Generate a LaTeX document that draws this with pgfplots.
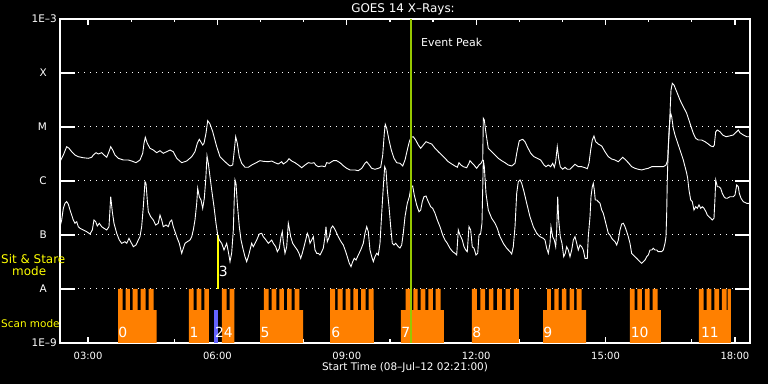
\documentclass[border=0pt]{standalone}
\usepackage{fontspec}
\setmainfont{DejaVu Sans}
\usepackage{pgfplots}
\pgfplotsset{compat=1.18}
\definecolor{scanor}{RGB}{255,128,0}
\definecolor{sitblue}{RGB}{100,100,255}
\definecolor{peakgreen}{RGB}{150,200,0}
\definecolor{labyellow}{RGB}{255,255,0}
\begin{document}
\begin{tikzpicture}
\useasboundingbox (0,0) rectangle (768bp,384bp);
\fill[black] (0,0) rectangle (768bp,384bp);
% axis with class ticks and dotted grid
\begin{axis}[at={(60bp,41bp)}, anchor=south west, scale only axis,
  width=690bp, height=324bp,
  xmin=2.35, xmax=18.35, ymin=-9, ymax=-3,
  xtick=\empty,
  ytick={-9,-8,-7,-6,-5,-4,-3},
  yticklabels={1E--9,{A\hspace*{10bp}},{B\hspace*{10bp}},{C\hspace*{10bp}},{M\hspace*{10bp}},{X\hspace*{10bp}},1E--3},
  major tick length=15bp,
  tick style={white, line width=1.2bp},
  ymajorgrids,
  major grid style={white, line width=1bp, dash pattern=on 1bp off 5bp},
  axis line style={white, line width=1.2bp},
  yticklabel style={text=white, font=\fontsize{10.5}{12}\selectfont, inner sep=0pt, xshift=-3bp},
]
\end{axis}
% data axis
\begin{axis}[at={(60bp,41bp)}, anchor=south west, scale only axis,
  width=690bp, height=324bp,
  xmin=2.35, xmax=18.35, ymin=-9, ymax=-3,
  xtick={3,6,9,12,15,18},
  xticklabels={03:00,06:00,09:00,12:00,15:00,18:00},
  minor xtick={4,5,7,8,10,11,13,14,16,17},
  ytick=\empty,
  major tick length=6bp, minor tick length=3.5bp,
  tick style={white, line width=1.2bp},
  axis line style={white, line width=1.2bp},
  xticklabel style={text=white, font=\fontsize{10}{12}\selectfont, inner sep=0pt, yshift=-9bp},
]
% scan blocks
\addplot[fill=scanor, draw=none] coordinates {(3.695,-9)(3.695,-8)(3.804,-8)(3.804,-8.389)(3.873,-8.389)(3.873,-8)(3.973,-8)(3.973,-8.389)(4.036,-8.389)(4.036,-8)(4.152,-8)(4.152,-8.389)(4.221,-8.389)(4.221,-8)(4.337,-8)(4.337,-8.389)(4.407,-8.389)(4.407,-8)(4.523,-8)(4.523,-8.389)(4.592,-8.389)(4.592,-9)};
\addplot[fill=scanor, draw=none] coordinates {(5.341,-9)(5.341,-8)(5.450,-8)(5.450,-8.389)(5.520,-8.389)(5.520,-8)(5.626,-8)(5.626,-8.389)(5.696,-8.389)(5.696,-8)(5.805,-8)(5.805,-9)};
\addplot[fill=scanor, draw=none] coordinates {(6.106,-9)(6.106,-8)(6.215,-8)(6.215,-8.389)(6.285,-8.389)(6.285,-8)(6.392,-8)(6.392,-9)};
\addplot[fill=scanor, draw=none] coordinates {(6.988,-9)(6.988,-8.389)(7.080,-8.389)(7.080,-8)(7.189,-8)(7.189,-8.389)(7.259,-8.389)(7.259,-8)(7.366,-8)(7.366,-8.389)(7.435,-8.389)(7.435,-8)(7.544,-8)(7.544,-8.389)(7.614,-8.389)(7.614,-8)(7.723,-8)(7.723,-8.389)(7.792,-8.389)(7.792,-8)(7.899,-8)(7.899,-8.389)(7.985,-8.389)(7.985,-9)};
\addplot[fill=scanor, draw=none] coordinates {(8.611,-9)(8.611,-8)(8.727,-8)(8.727,-8.389)(8.789,-8.389)(8.789,-8)(8.905,-8)(8.905,-8.389)(8.975,-8.389)(8.975,-8)(9.082,-8)(9.082,-8.389)(9.151,-8.389)(9.151,-8)(9.260,-8)(9.260,-8.389)(9.330,-8.389)(9.330,-8)(9.439,-8)(9.439,-8.389)(9.508,-8.389)(9.508,-8)(9.624,-8)(9.624,-8.389)(9.631,-8.389)(9.631,-9)};
\addplot[fill=scanor, draw=none] coordinates {(10.257,-9)(10.257,-8.389)(10.366,-8.389)(10.366,-8)(10.466,-8)(10.466,-8.389)(10.542,-8.389)(10.542,-8)(10.644,-8)(10.644,-8.389)(10.714,-8.389)(10.714,-8)(10.821,-8)(10.821,-8.389)(10.890,-8.389)(10.890,-8)(10.999,-8)(10.999,-8.389)(11.062,-8.389)(11.062,-8)(11.178,-8)(11.178,-8.389)(11.254,-8.389)(11.254,-9)};
\addplot[fill=scanor, draw=none] coordinates {(11.903,-9)(11.903,-8)(12.019,-8)(12.019,-8.389)(12.098,-8.389)(12.098,-8)(12.205,-8)(12.205,-8.389)(12.293,-8.389)(12.293,-8)(12.400,-8)(12.400,-8.389)(12.488,-8.389)(12.488,-8)(12.594,-8)(12.594,-8.389)(12.683,-8.389)(12.683,-8)(12.789,-8)(12.789,-8.389)(12.877,-8.389)(12.877,-8)(12.993,-8)(12.993,-9)};
\addplot[fill=scanor, draw=none] coordinates {(13.550,-9)(13.550,-8.389)(13.643,-8.389)(13.643,-8)(13.735,-8)(13.735,-8.389)(13.812,-8.389)(13.812,-8)(13.914,-8)(13.914,-8.389)(13.990,-8.389)(13.990,-8)(14.090,-8)(14.090,-8.389)(14.169,-8.389)(14.169,-8)(14.269,-8)(14.269,-8.389)(14.331,-8.389)(14.331,-8)(14.447,-8)(14.447,-8.389)(14.547,-8.389)(14.547,-9)};
\addplot[fill=scanor, draw=none] coordinates {(15.567,-9)(15.567,-8)(15.676,-8)(15.676,-8.389)(15.737,-8.389)(15.737,-8)(15.845,-8)(15.845,-8.389)(15.915,-8.389)(15.915,-8)(16.024,-8)(16.024,-8.389)(16.093,-8.389)(16.093,-8)(16.209,-8)(16.209,-8.389)(16.286,-8.389)(16.286,-9)};
\addplot[fill=scanor, draw=none] coordinates {(17.167,-9)(17.167,-8)(17.276,-8)(17.276,-8.389)(17.346,-8.389)(17.346,-8)(17.452,-8)(17.452,-8.389)(17.522,-8.389)(17.522,-8)(17.631,-8)(17.631,-8.389)(17.700,-8.389)(17.700,-8)(17.809,-8)(17.809,-8.389)(17.833,-8.389)(17.833,-8)(17.909,-8)(17.909,-9)};
% sit and stare
\addplot[fill=sitblue, draw=none] coordinates {(5.921,-9)(5.921,-8.389)(6.014,-8.389)(6.014,-9)};
\addplot[labyellow, line width=2bp] coordinates {(6.007,-8)(6.007,-7)};
% GOES long channel
\addplot[white, line width=0.9bp] coordinates {(2.350,-5.643)(2.427,-5.519)(2.505,-5.365)(2.559,-5.394)(2.621,-5.457)(2.698,-5.519)(2.774,-5.550)(2.890,-5.569)(3.006,-5.580)(3.085,-5.561)(3.122,-5.519)(3.185,-5.476)(3.238,-5.500)(3.317,-5.476)(3.370,-5.519)(3.433,-5.561)(3.486,-5.457)(3.526,-5.365)(3.572,-5.426)(3.625,-5.519)(3.702,-5.580)(3.818,-5.611)(3.934,-5.611)(4.013,-5.630)(4.112,-5.661)(4.205,-5.611)(4.268,-5.487)(4.298,-5.302)(4.328,-5.191)(4.374,-5.302)(4.437,-5.394)(4.513,-5.426)(4.592,-5.476)(4.669,-5.439)(4.745,-5.487)(4.824,-5.457)(4.901,-5.426)(4.977,-5.457)(5.056,-5.580)(5.172,-5.661)(5.288,-5.630)(5.404,-5.550)(5.480,-5.457)(5.534,-5.302)(5.580,-5.228)(5.613,-5.272)(5.659,-5.333)(5.689,-5.302)(5.735,-5.117)(5.775,-4.883)(5.828,-4.944)(5.891,-5.087)(5.984,-5.365)(6.060,-5.550)(6.137,-5.611)(6.215,-5.672)(6.292,-5.722)(6.355,-5.704)(6.392,-5.426)(6.424,-5.180)(6.461,-5.302)(6.508,-5.550)(6.563,-5.672)(6.640,-5.746)(6.716,-5.746)(6.795,-5.704)(6.872,-5.672)(6.988,-5.624)(7.064,-5.635)(7.180,-5.643)(7.259,-5.630)(7.335,-5.661)(7.412,-5.685)(7.491,-5.643)(7.528,-5.685)(7.607,-5.643)(7.660,-5.587)(7.723,-5.630)(7.799,-5.661)(7.876,-5.704)(7.955,-5.754)(8.031,-5.704)(8.108,-5.661)(8.186,-5.672)(8.240,-5.661)(8.286,-5.709)(8.340,-5.735)(8.418,-5.722)(8.495,-5.735)(8.534,-5.661)(8.595,-5.672)(8.687,-5.624)(8.766,-5.624)(8.843,-5.661)(8.919,-5.717)(8.998,-5.765)(9.075,-5.796)(9.190,-5.796)(9.267,-5.809)(9.346,-5.765)(9.422,-5.672)(9.462,-5.643)(9.522,-5.704)(9.578,-5.765)(9.654,-5.783)(9.731,-5.765)(9.786,-5.746)(9.833,-5.519)(9.870,-5.117)(9.893,-4.950)(9.926,-5.024)(9.979,-5.241)(10.032,-5.426)(10.095,-5.580)(10.157,-5.661)(10.234,-5.672)(10.297,-5.722)(10.350,-5.611)(10.403,-5.426)(10.450,-5.272)(10.489,-5.191)(10.542,-5.180)(10.598,-5.241)(10.658,-5.333)(10.714,-5.394)(10.774,-5.333)(10.837,-5.272)(10.890,-5.291)(10.969,-5.315)(11.046,-5.394)(11.122,-5.457)(11.201,-5.519)(11.277,-5.580)(11.354,-5.643)(11.433,-5.685)(11.509,-5.722)(11.563,-5.746)(11.602,-5.661)(11.648,-5.704)(11.702,-5.735)(11.781,-5.754)(11.834,-5.672)(11.857,-5.624)(11.897,-5.661)(11.950,-5.704)(12.012,-5.765)(12.066,-5.704)(12.112,-5.672)(12.152,-5.611)(12.166,-4.839)(12.189,-4.870)(12.228,-5.117)(12.281,-5.394)(12.360,-5.457)(12.437,-5.519)(12.513,-5.580)(12.592,-5.624)(12.669,-5.661)(12.745,-5.704)(12.824,-5.722)(12.901,-5.672)(12.954,-5.426)(13.000,-5.254)(13.079,-5.228)(13.132,-5.272)(13.186,-5.365)(13.265,-5.487)(13.341,-5.550)(13.418,-5.580)(13.496,-5.611)(13.573,-5.704)(13.619,-5.735)(13.673,-5.704)(13.728,-5.735)(13.775,-5.672)(13.812,-5.746)(13.844,-5.643)(13.881,-5.365)(13.914,-5.580)(13.951,-5.735)(14.007,-5.783)(14.060,-5.746)(14.113,-5.783)(14.176,-5.783)(14.238,-5.735)(14.292,-5.691)(14.368,-5.735)(14.447,-5.735)(14.524,-5.754)(14.577,-5.772)(14.616,-5.672)(14.656,-5.426)(14.693,-5.241)(14.732,-5.167)(14.772,-5.272)(14.832,-5.315)(14.911,-5.352)(14.987,-5.457)(15.064,-5.550)(15.143,-5.593)(15.219,-5.611)(15.296,-5.643)(15.352,-5.598)(15.398,-5.561)(15.451,-5.598)(15.528,-5.661)(15.606,-5.735)(15.683,-5.765)(15.760,-5.783)(15.838,-5.796)(15.915,-5.778)(15.992,-5.765)(16.070,-5.735)(16.147,-5.735)(16.223,-5.735)(16.339,-5.735)(16.402,-5.704)(16.441,-5.611)(16.478,-5.056)(16.518,-4.315)(16.548,-4.191)(16.587,-4.222)(16.650,-4.346)(16.727,-4.500)(16.803,-4.624)(16.882,-4.746)(16.958,-4.931)(17.035,-5.117)(17.091,-5.209)(17.151,-5.241)(17.230,-5.241)(17.306,-5.272)(17.383,-5.315)(17.439,-5.352)(17.499,-5.365)(17.522,-5.333)(17.555,-5.087)(17.592,-5.056)(17.654,-5.087)(17.717,-5.148)(17.793,-5.180)(17.870,-5.167)(17.962,-5.148)(18.041,-5.087)(18.079,-5.056)(18.118,-5.106)(18.195,-5.148)(18.273,-5.180)(18.334,-5.180)};
% GOES short channel
\addplot[white, line width=0.9bp] coordinates {(2.350,-6.846)(2.389,-6.722)(2.427,-6.506)(2.466,-6.413)(2.505,-6.383)(2.542,-6.426)(2.582,-6.537)(2.621,-6.630)(2.658,-6.722)(2.698,-6.783)(2.737,-6.754)(2.774,-6.846)(2.814,-6.876)(2.890,-6.907)(2.969,-6.939)(3.046,-6.981)(3.099,-6.907)(3.138,-6.722)(3.178,-6.754)(3.215,-6.833)(3.261,-6.783)(3.317,-6.846)(3.370,-6.876)(3.433,-6.907)(3.486,-6.846)(3.526,-6.291)(3.563,-6.569)(3.602,-6.783)(3.665,-6.969)(3.725,-7.093)(3.781,-7.154)(3.857,-7.124)(3.897,-7.154)(3.950,-7.061)(3.989,-7.124)(4.050,-7.217)(4.112,-7.185)(4.166,-7.093)(4.205,-7.031)(4.244,-6.846)(4.282,-6.476)(4.321,-6.013)(4.344,-6.043)(4.374,-6.352)(4.398,-6.569)(4.453,-6.661)(4.513,-6.722)(4.569,-6.815)(4.629,-6.783)(4.669,-6.630)(4.708,-6.722)(4.745,-6.846)(4.808,-6.815)(4.861,-6.846)(4.901,-6.754)(4.940,-6.722)(4.977,-6.846)(5.017,-6.939)(5.070,-7.061)(5.116,-7.154)(5.172,-7.339)(5.209,-7.246)(5.249,-7.154)(5.302,-7.124)(5.364,-7.093)(5.404,-7.031)(5.441,-6.907)(5.480,-6.722)(5.520,-6.413)(5.543,-6.135)(5.580,-6.291)(5.620,-6.352)(5.659,-6.506)(5.696,-6.320)(5.729,-5.981)(5.759,-5.537)(5.789,-5.672)(5.828,-5.920)(5.868,-6.167)(5.921,-6.476)(5.967,-6.783)(6.007,-7.000)(6.044,-7.093)(6.100,-7.154)(6.153,-7.278)(6.215,-7.154)(6.253,-7.309)(6.292,-7.494)(6.331,-7.333)(6.369,-6.907)(6.392,-6.291)(6.408,-5.981)(6.431,-6.043)(6.461,-6.413)(6.508,-6.846)(6.547,-7.093)(6.600,-7.278)(6.640,-7.402)(6.679,-7.494)(6.716,-7.402)(6.756,-7.278)(6.795,-7.154)(6.832,-7.217)(6.872,-7.154)(6.911,-7.093)(6.971,-6.981)(7.027,-6.969)(7.064,-7.031)(7.127,-7.093)(7.180,-7.154)(7.219,-7.124)(7.259,-7.093)(7.296,-7.154)(7.352,-7.217)(7.389,-7.309)(7.435,-7.246)(7.475,-7.031)(7.505,-6.939)(7.528,-7.124)(7.567,-7.339)(7.607,-7.217)(7.644,-6.783)(7.667,-6.876)(7.699,-7.031)(7.746,-7.154)(7.799,-7.217)(7.853,-7.278)(7.892,-7.339)(7.931,-7.432)(7.968,-7.339)(8.008,-7.217)(8.047,-7.093)(8.085,-6.969)(8.117,-7.031)(8.147,-7.154)(8.186,-7.093)(8.224,-7.031)(8.263,-7.278)(8.302,-7.339)(8.340,-7.339)(8.379,-7.370)(8.418,-7.309)(8.455,-7.246)(8.495,-7.031)(8.518,-6.846)(8.548,-7.124)(8.595,-7.031)(8.634,-6.876)(8.673,-6.833)(8.711,-6.876)(8.750,-6.939)(8.803,-7.031)(8.866,-7.124)(8.919,-7.185)(8.975,-7.309)(9.012,-7.402)(9.058,-7.524)(9.098,-7.587)(9.137,-7.494)(9.174,-7.432)(9.214,-7.463)(9.267,-7.370)(9.323,-7.278)(9.383,-7.154)(9.422,-6.969)(9.462,-6.846)(9.499,-6.939)(9.538,-7.278)(9.578,-7.402)(9.615,-7.494)(9.654,-7.402)(9.694,-7.339)(9.731,-7.370)(9.770,-7.154)(9.810,-6.598)(9.847,-6.106)(9.879,-5.735)(9.909,-5.796)(9.940,-6.167)(9.979,-6.476)(10.018,-6.846)(10.055,-7.154)(10.095,-7.185)(10.134,-7.154)(10.195,-7.217)(10.234,-7.241)(10.273,-7.185)(10.310,-6.969)(10.350,-6.661)(10.403,-6.413)(10.450,-6.291)(10.489,-6.106)(10.528,-6.093)(10.565,-6.259)(10.621,-6.444)(10.674,-6.569)(10.714,-6.537)(10.751,-6.383)(10.790,-6.291)(10.837,-6.278)(10.890,-6.383)(10.946,-6.476)(10.992,-6.506)(11.046,-6.598)(11.099,-6.722)(11.161,-6.846)(11.224,-7.000)(11.277,-7.093)(11.331,-7.154)(11.393,-7.246)(11.456,-7.309)(11.509,-7.339)(11.549,-7.370)(11.586,-6.907)(11.625,-7.000)(11.679,-7.093)(11.718,-7.217)(11.757,-7.278)(11.794,-7.309)(11.834,-6.846)(11.873,-6.907)(11.910,-7.217)(11.950,-7.246)(11.996,-7.370)(12.036,-7.339)(12.066,-7.000)(12.105,-6.969)(12.135,-6.783)(12.166,-5.611)(12.189,-5.735)(12.228,-6.228)(12.281,-6.537)(12.360,-6.691)(12.437,-6.783)(12.490,-6.876)(12.553,-7.031)(12.629,-7.154)(12.708,-7.246)(12.785,-7.309)(12.824,-7.352)(12.861,-7.217)(12.901,-6.846)(12.940,-6.228)(12.977,-6.013)(13.017,-5.981)(13.056,-6.043)(13.109,-6.198)(13.172,-6.413)(13.248,-6.661)(13.325,-6.846)(13.404,-6.969)(13.480,-7.031)(13.557,-7.061)(13.596,-7.093)(13.636,-7.246)(13.673,-7.339)(13.712,-7.154)(13.735,-6.846)(13.775,-7.031)(13.812,-7.093)(13.844,-7.217)(13.868,-6.907)(13.891,-6.291)(13.914,-6.722)(13.951,-7.031)(13.990,-7.154)(14.030,-7.402)(14.067,-7.339)(14.099,-7.217)(14.137,-7.278)(14.176,-7.402)(14.215,-7.278)(14.253,-7.093)(14.292,-7.031)(14.331,-7.154)(14.368,-7.278)(14.408,-7.185)(14.447,-7.217)(14.484,-7.278)(14.524,-7.432)(14.577,-7.432)(14.600,-7.031)(14.640,-6.661)(14.663,-6.291)(14.693,-6.106)(14.716,-6.043)(14.740,-6.167)(14.762,-6.352)(14.795,-6.352)(14.832,-6.383)(14.872,-6.413)(14.911,-6.537)(14.948,-6.598)(14.987,-6.722)(15.027,-6.846)(15.064,-6.969)(15.103,-7.000)(15.143,-7.061)(15.180,-7.093)(15.219,-7.124)(15.259,-7.185)(15.296,-7.093)(15.335,-6.907)(15.375,-6.796)(15.412,-6.783)(15.451,-6.846)(15.491,-6.939)(15.528,-7.031)(15.567,-7.154)(15.606,-7.339)(15.644,-7.370)(15.683,-7.402)(15.723,-7.432)(15.760,-7.463)(15.799,-7.494)(15.838,-7.524)(15.876,-7.494)(15.915,-7.463)(15.954,-7.402)(15.992,-7.370)(16.031,-7.278)(16.070,-7.278)(16.108,-7.246)(16.147,-7.278)(16.186,-7.278)(16.223,-7.309)(16.263,-7.309)(16.302,-7.309)(16.339,-7.278)(16.379,-7.154)(16.402,-7.031)(16.418,-6.598)(16.432,-5.981)(16.455,-5.365)(16.478,-4.994)(16.511,-4.746)(16.534,-4.809)(16.571,-5.024)(16.611,-5.148)(16.650,-5.241)(16.687,-5.333)(16.727,-5.426)(16.766,-5.519)(16.803,-5.611)(16.843,-5.735)(16.882,-5.857)(16.905,-5.950)(16.935,-6.167)(16.975,-6.352)(17.012,-6.383)(17.051,-6.537)(17.091,-6.476)(17.128,-6.506)(17.167,-6.444)(17.207,-6.506)(17.244,-6.476)(17.283,-6.506)(17.329,-6.569)(17.359,-6.630)(17.399,-6.661)(17.439,-6.691)(17.475,-6.722)(17.515,-6.691)(17.538,-6.320)(17.555,-5.981)(17.592,-6.106)(17.631,-6.106)(17.670,-6.135)(17.707,-6.228)(17.747,-6.291)(17.786,-6.320)(17.823,-6.320)(17.886,-6.291)(17.962,-6.291)(18.002,-6.259)(18.041,-6.074)(18.079,-6.106)(18.102,-6.228)(18.141,-6.320)(18.195,-6.383)(18.273,-6.413)(18.340,-6.413)};
% event peak
\addplot[peakgreen, line width=2bp] coordinates {(10.489,-9)(10.489,-3)};
% labels in the plot
\begin{scope}[every node/.style={anchor=west, text=white, inner sep=0pt, font=\fontsize{14}{16}\selectfont}]
\node at (axis cs:3.700,-8.806) {0};
\node at (axis cs:5.350,-8.806) {1};
\node at (axis cs:5.940,-8.806) {24};
\node at (axis cs:6.030,-7.667) {3};
\node at (axis cs:7.000,-8.806) {5};
\node at (axis cs:8.640,-8.806) {6};
\node at (axis cs:10.262,-8.806) {7};
\node at (axis cs:11.908,-8.806) {8};
\node at (axis cs:13.555,-8.806) {9};
\node at (axis cs:15.580,-8.806) {10};
\node at (axis cs:17.210,-8.806) {11};
\end{scope}
\end{axis}
% titles and side labels
\node[text=white, font=\fontsize{12}{14}\selectfont] at (403bp,374.5bp) {GOES 14 X--Rays:};
\node[text=white, font=\fontsize{10.5}{12}\selectfont] at (405bp,16bp) {Start Time (08--Jul--12 02:21:00)};
\node[text=white, anchor=west, inner sep=0pt, font=\fontsize{11}{13}\selectfont] at (421bp,341.3bp) {Event Peak};
\node[text=labyellow, anchor=west, inner sep=0pt, font=\fontsize{12}{14}\selectfont] at (1bp,125.3bp) {Sit \& Stare};
\node[text=labyellow, anchor=west, inner sep=0pt, font=\fontsize{12}{14}\selectfont] at (12bp,113bp) {mode};
\node[text=labyellow, anchor=west, inner sep=0pt, font=\fontsize{10.5}{12}\selectfont] at (1bp,60bp) {Scan mode};
\end{tikzpicture}
\end{document}
